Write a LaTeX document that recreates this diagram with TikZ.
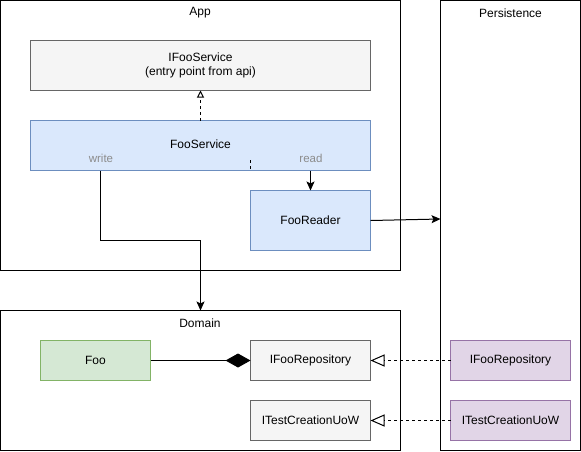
\documentclass[tikz,border=0pt]{standalone}
\usepackage{fontspec}
\setmainfont{Liberation Sans}
\usetikzlibrary{arrows.meta}
\definecolor{grayfill}{HTML}{F5F5F5}
\definecolor{graystroke}{HTML}{666666}
\definecolor{bluefill}{HTML}{DAE8FC}
\definecolor{bluestroke}{HTML}{6C8EBF}
\definecolor{greenfill}{HTML}{D5E8D4}
\definecolor{greenstroke}{HTML}{82B366}
\definecolor{purplefill}{HTML}{E1D5E7}
\definecolor{purplestroke}{HTML}{9673A6}
\definecolor{labelgray}{HTML}{8C8C8C}
\tikzset{
  every node/.style={font=\fontsize{12}{14}\selectfont, inner sep=0pt, outer sep=0pt},
  container/.style={draw=black, line width=1pt, anchor=north west},
  graybox/.style={draw=graystroke, fill=grayfill, line width=1pt, anchor=north west, align=center},
  bluebox/.style={draw=bluestroke, fill=bluefill, line width=1pt, anchor=north west, align=center},
  greenbox/.style={draw=greenstroke, fill=greenfill, line width=1pt, anchor=north west},
  purplebox/.style={draw=purplestroke, fill=purplefill, line width=1pt, anchor=north west},
  conn/.style={draw=black, line width=1pt},
  dashconn/.style={draw=black, line width=1pt, dash pattern=on 3pt off 3pt},
  filledtip/.style={-{Stealth[length=9pt,width=8pt,inset=2pt]}},
  realize/.style={-{Triangle[open,length=14pt,width=12pt]}},
  smallrealize/.style={-{Triangle[open,length=7pt,width=7pt]}},
  compose/.style={-{Diamond[length=25pt,width=14pt]}},
  smalltext/.style={text=labelgray, font=\fontsize{11.5}{13}\selectfont}
}
\begin{document}
\begin{tikzpicture}[x=1pt,y=-1pt]
\useasboundingbox (0,0) rectangle (581,451);
% containers
\node[container, minimum width=400pt, minimum height=270pt] (app) at (0.5,0.5) {};
\node[anchor=center] (applabel) at (200,13) {App};
\node[container, minimum width=140pt, minimum height=450pt] (pers) at (440.5,0.5) {};
\node[anchor=center] (perslabel) at (510.5,13) {Persistence};
\node[container, minimum width=400pt, minimum height=140pt] (dom) at (0.5,310.5) {};
\node[anchor=center] (domlabel) at (200,323) {Domain};
% App content
\node[graybox, minimum width=340pt, minimum height=50pt] (ifoosvc) at (30.5,40.5) {};
\node[align=center] (ifoosvctext) at (200.5,65.5) {IFooService\\(entry point from api)};
\node[bluebox, minimum width=340pt, minimum height=50pt] (svc) at (30.5,120.5) {};
\node (svctext) at (200.5,144) {FooService};
\node[smalltext] (writetext) at (101,158.5) {write};
\node[smalltext] (readtext) at (311,158.5) {read};
\node[bluebox, minimum width=120pt, minimum height=60pt] (reader) at (250.5,190.5) {};
\node (readertext) at (310.5,220.5) {FooReader};
% Domain content
\node[greenbox, minimum width=110pt, minimum height=40pt] (foo) at (40.5,340.5) {};
\node (footext) at (95.5,360.5) {Foo};
\node[graybox, minimum width=120pt, minimum height=40pt] (irepo) at (250.5,340.5) {};
\node (irepotext) at (310.5,360.5) {IFooRepository};
\node[graybox, minimum width=120pt, minimum height=40pt] (iuow) at (250.5,400.5) {};
\node (iuowtext) at (310.5,420.5) {ITestCreationUoW};
% Persistence content
\node[purplebox, minimum width=120pt, minimum height=40pt] (prepo) at (450.5,340.5) {};
\node (prepotext) at (510.5,360.5) {IFooRepository};
\node[purplebox, minimum width=120pt, minimum height=40pt] (puow) at (450.5,400.5) {};
\node (puowtext) at (510.5,420.5) {ITestCreationUoW};
% connectors
\draw[dashconn, smallrealize] (svc.north) -- (ifoosvc.south);
\coordinate (stubtop) at (250.5,160);
\coordinate (stubbot) at (250.5,170.5);
\draw[dashconn, dash pattern=on 3pt off 3pt] (stubtop) -- (stubbot);
\coordinate (readsrc) at (310.5,170.5);
\draw[conn, filledtip] (readsrc) -- (reader.north -| readsrc);
\coordinate (writesrc) at (100.5,170.5);
\coordinate (bend1) at (100.5,240.5);
\coordinate (bend2) at (200.5,240.5);
\draw[conn, filledtip] (writesrc) -- (bend1) -- (bend2) -- (dom.north);
\coordinate (persin) at (440.5,219);
\draw[conn, filledtip] (reader.east) -- (persin);
\draw[conn, compose] (foo.east) -- (irepo.west);
\draw[dashconn, realize] (prepo.west) -- (irepo.east);
\draw[dashconn, realize] (puow.west) -- (iuow.east);
\end{tikzpicture}
\end{document}
